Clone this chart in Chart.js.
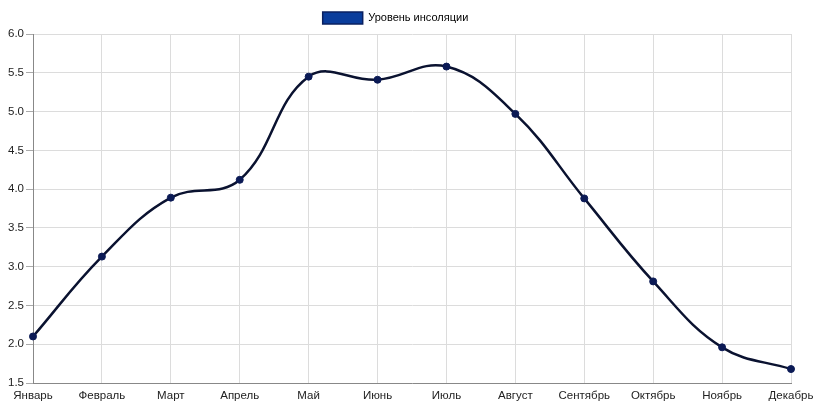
<!DOCTYPE html>
<html>
<head>
<meta charset="utf-8">
<script src="https://cdn.jsdelivr.net/npm/chart.js@4.4.1/dist/chart.umd.min.js"></script>
<style>
  html, body { margin: 0; padding: 0; background: #fff; }
  #wrap { width: 814px; height: 403px; position: relative; }
</style>
</head>
<body>
<div id="wrap"><canvas id="chart"></canvas></div>
<script>
// Уровень инсоляции по месяцам
var months = ['Январь', 'Февраль', 'Март', 'Апрель', 'Май', 'Июнь', 'Июль', 'Август', 'Сентябрь', 'Октябрь', 'Ноябрь', 'Декабрь'];
var insolation = [2.10, 3.13, 3.89, 4.12, 5.45, 5.41, 5.58, 4.97, 3.88, 2.81, 1.96, 1.68];
var seriesLabel = 'Уровень инсоляции';

Chart.defaults.font.family = '"Liberation Sans", Arial, sans-serif';
Chart.defaults.font.size = 11.5;
Chart.defaults.color = '#222';

var ctx = document.getElementById('chart').getContext('2d');
var chart = new Chart(ctx, {
  type: 'line',
  data: {
    labels: months,
    datasets: [{
      label: seriesLabel,
      data: insolation,
      borderColor: '#0a1230',
      backgroundColor: '#0a3d9c',
      borderWidth: 2.5,
      tension: 0.4,
      pointRadius: 3.5,
      pointBackgroundColor: '#0b1a55',
      pointBorderColor: '#0b1a55',
      pointBorderWidth: 1,
      fill: false
    }]
  },
  options: {
    responsive: true,
    maintainAspectRatio: false,
    animation: false,
    layout: { padding: { left: 0, right: 23, top: 4, bottom: 0 } },
    plugins: {
      legend: {
        position: 'top',
        labels: {
          boxWidth: 40,
          boxHeight: 12,
          padding: 8,
          font: { size: 11 },
          generateLabels: function(c) {
            return [{
              text: seriesLabel,
              fillStyle: '#0a3d9c',
              strokeStyle: '#0a2060',
              lineWidth: 1.5,
              datasetIndex: 0
            }];
          }
        }
      },
      tooltip: { enabled: false }
    },
    scales: {
      x: {
        offset: false,
        grid: { color: '#dcdcdc', drawTicks: false },
        border: { color: '#888' },
        ticks: { padding: 6, maxRotation: 0, autoSkip: false },
        afterFit: function(s) {
          s.height = 20;
          s.paddingRight = 0;
          s.paddingLeft = 0;
        }
      },
      y: {
        min: 1.5,
        max: 6.0,
        grid: { color: '#dcdcdc', tickLength: 7, tickColor: '#aaa' },
        border: { color: '#888' },
        ticks: {
          stepSize: 0.5,
          padding: 2,
          callback: function(v) { return v.toFixed(1); }
        },
        afterFit: function(s) {
          s.width = 33;
          s.paddingTop = 0;
          s.paddingBottom = 0;
        }
      }
    }
  }
});
</script>
</body>
</html>
